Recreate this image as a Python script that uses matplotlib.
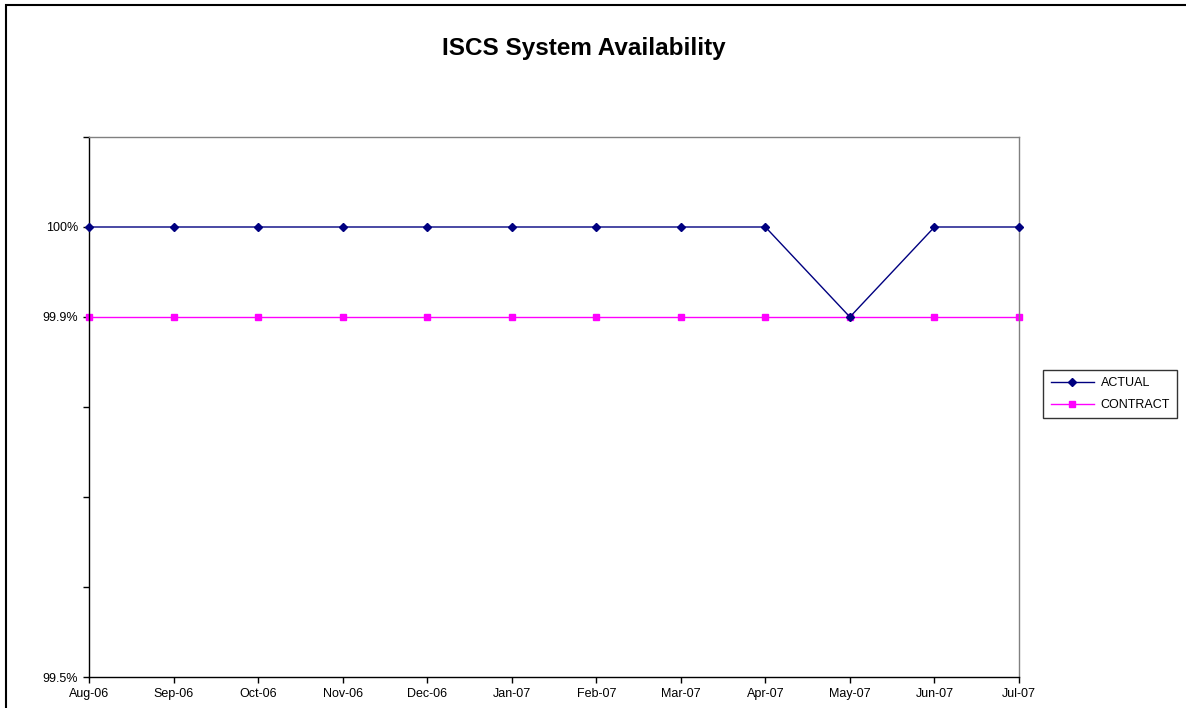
import matplotlib
matplotlib.use("Agg")
import matplotlib.pyplot as plt
from matplotlib.patches import Rectangle
import numpy as np

plt.rcParams["font.family"] = ["Liberation Sans", "DejaVu Sans"]

months = ["Aug-06", "Sep-06", "Oct-06", "Nov-06", "Dec-06", "Jan-07",
          "Feb-07", "Mar-07", "Apr-07", "May-07", "Jun-07", "Jul-07"]
actual = [100.0, 100.0, 100.0, 100.0, 100.0, 100.0,
          100.0, 100.0, 100.0, 99.9, 100.0, 100.0]
contract = [99.9] * 12
y_ticks = [99.5, 99.6, 99.7, 99.8, 99.9, 100.0, 100.1]
y_labels = ["99.5%", "", "", "", "99.9%", "100%", ""]

W, H = 1186, 708
fig = plt.figure(figsize=(W / 100, H / 100), dpi=100)
fig.patch.set_facecolor("white")

# outer chart border (only top/left visible, rest cropped)
fig.patches.append(Rectangle((6 / W, -0.05), 1.1, (H - 5) / H + 0.05,
                             transform=fig.transFigure, fill=False,
                             edgecolor="black", linewidth=1.5))

ax = fig.add_axes([89 / W, (H - 677) / H, 930 / W, 540 / H])
x = np.arange(len(months))
ax.plot(x, actual, color="#000080", linewidth=1.0, marker="D",
        markersize=4.5, markerfacecolor="#000080", markeredgecolor="#000080",
        label="ACTUAL", clip_on=False, zorder=3)
ax.plot(x, contract, color="#FF00FF", linewidth=1.0, marker="s",
        markersize=5, markerfacecolor="#FF00FF", markeredgecolor="#FF00FF",
        label="CONTRACT", clip_on=False, zorder=2)

ax.set_xlim(0, len(months) - 1)
ax.set_ylim(99.5, 100.1)
ax.set_xticks(x)
ax.set_xticklabels(months, fontsize=9)
ax.set_yticks(y_ticks)
ax.set_yticklabels(y_labels, fontsize=9)
ax.tick_params(direction="out", length=4, width=1, colors="black", pad=4)

ax.spines["left"].set_color("black")
ax.spines["bottom"].set_color("black")
ax.spines["top"].set_color("#808080")
ax.spines["right"].set_color("#808080")
for s in ax.spines.values():
    s.set_linewidth(1.0)

fig.text(584 / W, 1 - 48 / H, "ISCS System Availability", ha="center",
         va="center", fontsize=17.5, fontweight="bold")

leg = fig.legend(loc="upper left", bbox_to_anchor=(1043 / W, 1 - 370 / H),
                 fontsize=9, frameon=True, fancybox=False, edgecolor="black",
                 borderpad=0.6, handlelength=3.5, handletextpad=0.5,
                 labelspacing=0.75, borderaxespad=0)
leg.get_frame().set_linewidth(1.0)

fig.savefig("out.png", dpi=100)
